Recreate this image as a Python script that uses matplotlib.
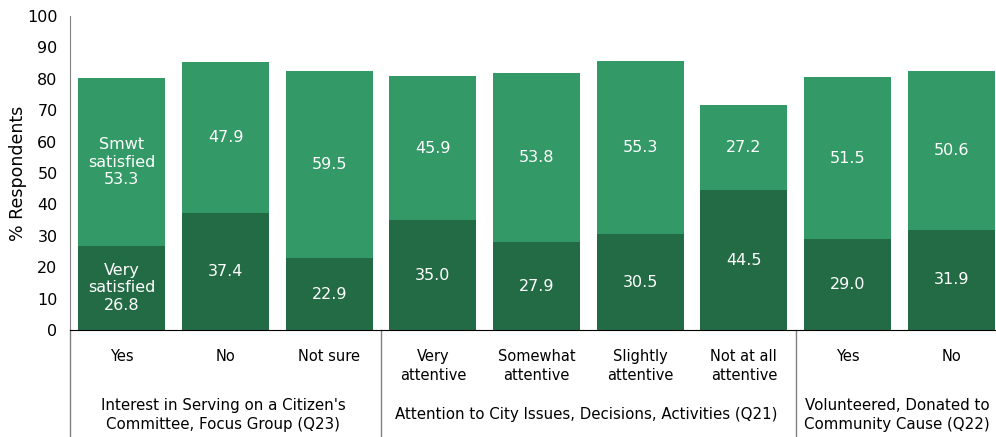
import matplotlib
matplotlib.use('Agg')
import matplotlib.pyplot as plt
from matplotlib.lines import Line2D

# data
categories = ["Yes", "No", "Not sure",
              "Very\nattentive", "Somewhat\nattentive", "Slightly\nattentive", "Not at all\nattentive",
              "Yes", "No"]
very_satisfied = [26.8, 37.4, 22.9, 35.0, 27.9, 30.5, 44.5, 29.0, 31.9]
smwt_satisfied = [53.3, 47.9, 59.5, 45.9, 53.8, 55.3, 27.2, 51.5, 50.6]
groups = ["Interest in Serving on a Citizen's\nCommittee, Focus Group (Q23)",
          "Attention to City Issues, Decisions, Activities (Q21)",
          "Volunteered, Donated to\nCommunity Cause (Q22)"]
group_sizes = [3, 4, 2]

dark = '#236B45'
light = '#339966'

plt.rcParams['font.family'] = 'DejaVu Sans'

fig = plt.figure(figsize=(9.96, 4.37), dpi=100)
ax = fig.add_axes([70 / 996, 107 / 437, 933 / 996, 314 / 437])

x = range(len(categories))
ax.bar(x, very_satisfied, width=0.84, color=dark)
ax.bar(x, smwt_satisfied, width=0.84, bottom=very_satisfied, color=light)

for i, (v, s) in enumerate(zip(very_satisfied, smwt_satisfied)):
    lo = f"{v:.1f}"
    hi = f"{s:.1f}"
    if i == 0:
        lo = "Very\nsatisfied\n" + lo
        hi = "Smwt\nsatisfied\n" + hi
    ax.text(i, v / 2, lo, ha='center', va='center', color='white',
            fontsize=11.5, linespacing=1.2)
    ax.text(i, v + s / 2, hi, ha='center', va='center', color='white',
            fontsize=11.5, linespacing=1.2)

ax.set_xlim(-0.5, 8.5)
ax.set_ylim(0, 100)
ax.set_yticks(range(0, 101, 10))
ax.tick_params(axis='y', length=0, labelsize=11.5, pad=9)
ax.set_xticks(list(x))
ax.set_xticklabels(categories, fontsize=10.5, va='top', linespacing=1.3)
ax.tick_params(axis='x', length=0, pad=14)
ax.set_ylabel('% Respondents', fontsize=12.5)
ax.yaxis.set_label_coords(-0.046, 0.5)

for side in ['top', 'right']:
    ax.spines[side].set_visible(False)
ax.spines['left'].set_color('#808080')
ax.spines['bottom'].set_color('black')

# group separators and labels below the axis
trans = ax.get_xaxis_transform()
start = -0.5
for name, n in zip(groups, group_sizes):
    end = start + n
    ax.text((start + end) / 2 - 0.02, -0.27, name, transform=trans, ha='center', va='center',
            fontsize=10.8, linespacing=1.3)
    if start > -0.5:
        ax.add_line(Line2D([start, start], [0, -0.35], transform=trans,
                           color='#808080', lw=1, clip_on=False))
    start = end
ax.add_line(Line2D([-0.5, -0.5], [0, -0.35], transform=trans,
                   color='#808080', lw=1, clip_on=False))

fig.savefig('out.png', dpi=100)
